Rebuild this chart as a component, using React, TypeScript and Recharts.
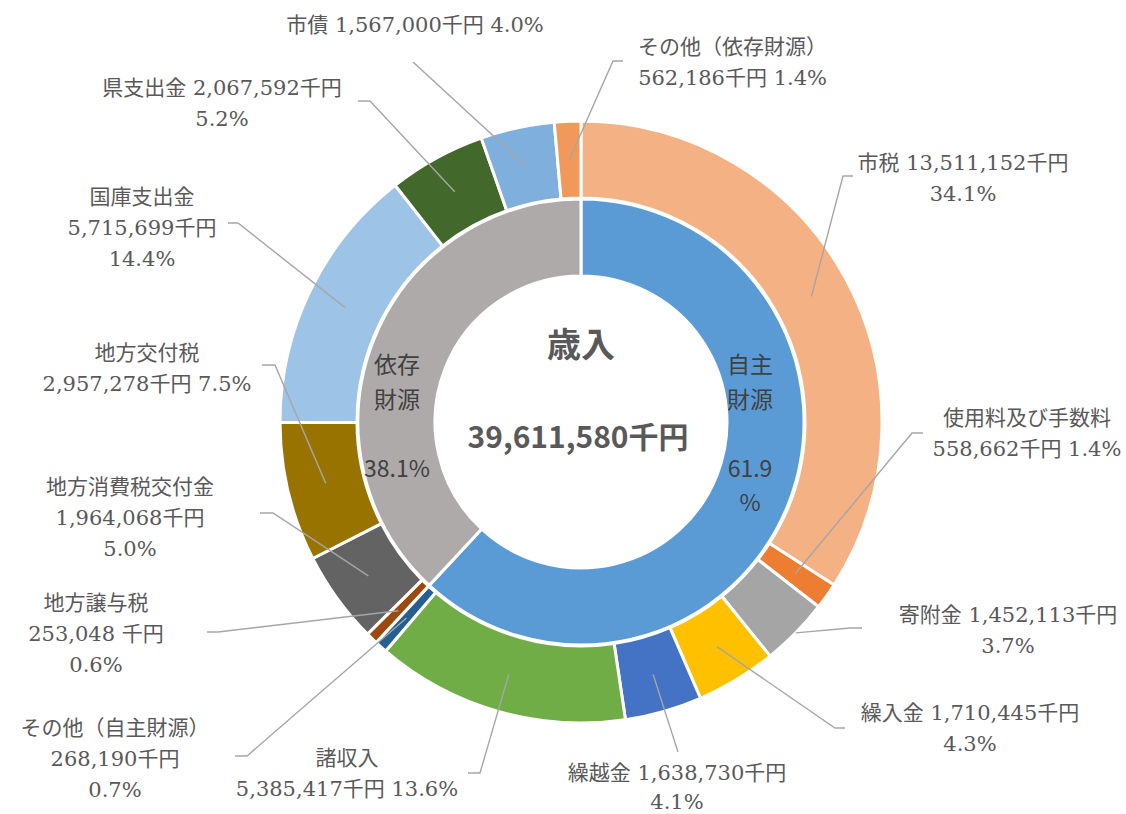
import { PieChart, Pie, Cell, Label } from 'recharts';

// 歳入の内訳（千円）
const itemNames = [
  '市税', '使用料及び手数料', '寄附金', '繰入金', '繰越金', '諸収入', 'その他（自主財源）',
  '地方譲与税', '地方消費税交付金', '地方交付税', '国庫支出金', '県支出金', '市債', 'その他（依存財源）',
];
const itemValues = [
  13511152, 558662, 1452113, 1710445, 1638730, 5385417, 268190,
  253048, 1964068, 2957278, 5715699, 2067592, 1567000, 562186,
];
const itemColors = [
  '#F4B183', '#ED7D31', '#A5A5A5', '#FFC000', '#4472C4', '#70AD47', '#255E91',
  '#9E480E', '#636363', '#997300', '#9DC3E6', '#43682B', '#7FAFDD', '#F1995A',
];

const groupNames = ['自主財源', '依存財源'];
const groupValues = [24524709, 15086871];
const groupColors = ['#5B9BD5', '#AEAAAA'];

const TOTAL = 39611580;
const TITLE = '歳入';
const TOTAL_TEXT = '39,611,580千円';

const CX = 581;
const CY = 422;

// label placement: n = name, v = value, p = percent, | = line break
const OUTER_LAYOUT: any[] = [
  { x: 963, y: 163, fmt: 'nv|p', elbow: [843, 176], end: [853, 176] },
  { x: 1027, y: 418, fmt: 'n|vp', elbow: [912, 433], end: [923, 433] },
  { x: 1008, y: 615, fmt: 'nv|p', elbow: [850, 628], end: [862, 628], edge: true },
  { x: 970, y: 713, fmt: 'nv|p', elbow: [835, 728], end: [845, 728] },
  { x: 677, y: 773, fmt: 'nv|p', elbow: [678, 752], lh: 29 },
  { x: 347, y: 758, fmt: 'n|vp', elbow: [480, 773], end: [468, 773] },
  { x: 115, y: 728, fmt: 'n|v|p', elbow: [247, 756], end: [235, 756] },
  { x: 96, y: 603, fmt: 'n|v|p', elbow: [218, 632], end: [207, 632], unitGap: true },
  { x: 130, y: 487, fmt: 'n|v|p', elbow: [273, 513], end: [260, 513] },
  { x: 147, y: 353, fmt: 'n|vp', elbow: [275, 365], end: [262, 365] },
  { x: 142, y: 197, fmt: 'n|v|p', elbow: [238, 223], end: [228, 223] },
  { x: 222, y: 88, fmt: 'nv|p', elbow: [370, 101], end: [358, 101] },
  { x: 415, y: 25, fmt: 'nvp', elbow: [413, 62] },
  { x: 827, y: 47, fmt: 'n|vp', elbow: [613, 61], end: [623, 61], anchor: 'end' },
];

const INNER_LAYOUT: any[] = [
  { x: 750, y: 363, splitPct: true },
  { x: 397, y: 363, splitPct: false },
];

const LABEL_FONT = "'DejaVu Serif', 'Liberation Serif', 'Noto Sans CJK JP', serif";
const GOTHIC = "'Noto Sans CJK JP', sans-serif";

const pct = (v: number) => ((v / TOTAL) * 100).toFixed(1) + '%';

const outerData = itemNames.map((name, i) => ({ name, value: itemValues[i] }));
const innerData = groupNames.map((name, i) => ({ name, value: groupValues[i] }));

function renderOuterLabel(p: any) {
  const L = OUTER_LAYOUT[p.index];
  const rad = (-p.midAngle * Math.PI) / 180;
  const r = L.edge ? p.outerRadius : (p.innerRadius + p.outerRadius) / 2;
  const sx = p.cx + r * Math.cos(rad);
  const sy = p.cy + r * Math.sin(rad);
  const pts = [[sx, sy], L.elbow];
  if (L.end) pts.push(L.end);

  const v = itemValues[p.index];
  const parts: Record<string, string> = {
    n: itemNames[p.index],
    v: v.toLocaleString('en-US') + (L.unitGap ? ' 千円' : '千円'),
    p: pct(v),
  };
  const lines = L.fmt.split('|').map((seg: string) => seg.split('').map((c: string) => parts[c]).join(' '));
  const lh = L.lh || 31;

  return (
    <g key={'ol' + p.index}>
      <polyline
        points={pts.map((q) => q.join(',')).join(' ')}
        fill="none"
        stroke="#A6A6A6"
        strokeWidth={1.4}
      />
      <text
        fill="#595959"
        fontSize={21}
        style={{ fontFamily: LABEL_FONT }}
        textAnchor={L.anchor || 'middle'}
        dominantBaseline="central"
      >
        {lines.map((t: string, i: number) => (
          <tspan key={i} x={L.x} y={L.y + i * lh}>
            {t}
          </tspan>
        ))}
      </text>
    </g>
  );
}

function renderInnerLabel(p: any) {
  const L = INNER_LAYOUT[p.index];
  const name = groupNames[p.index];
  const pc = ((groupValues[p.index] / TOTAL) * 100).toFixed(1);
  const lines = [name.slice(0, 2), name.slice(2), ''];
  if (L.splitPct) lines.push(pc, '%');
  else lines.push(pc + '%');
  return (
    <text
      key={'il' + p.index}
      fill="#404040"
      fontSize={23}
      style={{ fontFamily: GOTHIC }}
      textAnchor="middle"
      dominantBaseline="central"
    >
      {lines.map((t, i) => (
        <tspan key={i} x={L.x} y={L.y + i * 34.5}>
          {t}
        </tspan>
      ))}
    </text>
  );
}

function CenterText(props: any) {
  const vb = props.viewBox || {};
  const cx = vb.cx ?? CX;
  const cy = vb.cy ?? CY;
  return (
    <g>
      <text x={cx} y={cy - 80} textAnchor="middle" dominantBaseline="central" fill="#595959"
        fontSize={34} fontWeight="bold" style={{ fontFamily: GOTHIC }}>
        {TITLE}
      </text>
      <text x={cx - 3} y={cy + 13} textAnchor="middle" dominantBaseline="central" fill="#595959"
        fontSize={30} fontWeight="bold" style={{ fontFamily: GOTHIC }}
        textLength={221} lengthAdjust="spacingAndGlyphs">
        {TOTAL_TEXT}
      </text>
    </g>
  );
}

export default function App() {
  return (
    <div style={{ position: 'absolute', left: 0, top: 0, width: 1126, height: 814, background: '#fff' }}>
      <PieChart width={1126} height={814} margin={{ top: 0, right: 0, bottom: 0, left: 0 }}>
        <Pie
          data={innerData}
          dataKey="value"
          nameKey="name"
          cx={CX}
          cy={CY}
          innerRadius={146}
          outerRadius={223}
          startAngle={90}
          endAngle={-270}
          stroke="#fff"
          strokeWidth={3}
          isAnimationActive={false}
          labelLine={false}
          label={renderInnerLabel}
        >
          {innerData.map((d, i) => (
            <Cell key={d.name} fill={groupColors[i]} />
          ))}
          <Label position="center" content={<CenterText />} />
        </Pie>
        <Pie
          data={outerData}
          dataKey="value"
          nameKey="name"
          cx={CX}
          cy={CY}
          innerRadius={224}
          outerRadius={301}
          startAngle={90}
          endAngle={-270}
          stroke="#fff"
          strokeWidth={3}
          isAnimationActive={false}
          labelLine={false}
          label={renderOuterLabel}
        >
          {outerData.map((d, i) => (
            <Cell key={d.name} fill={itemColors[i]} />
          ))}
        </Pie>
      </PieChart>
    </div>
  );
}
